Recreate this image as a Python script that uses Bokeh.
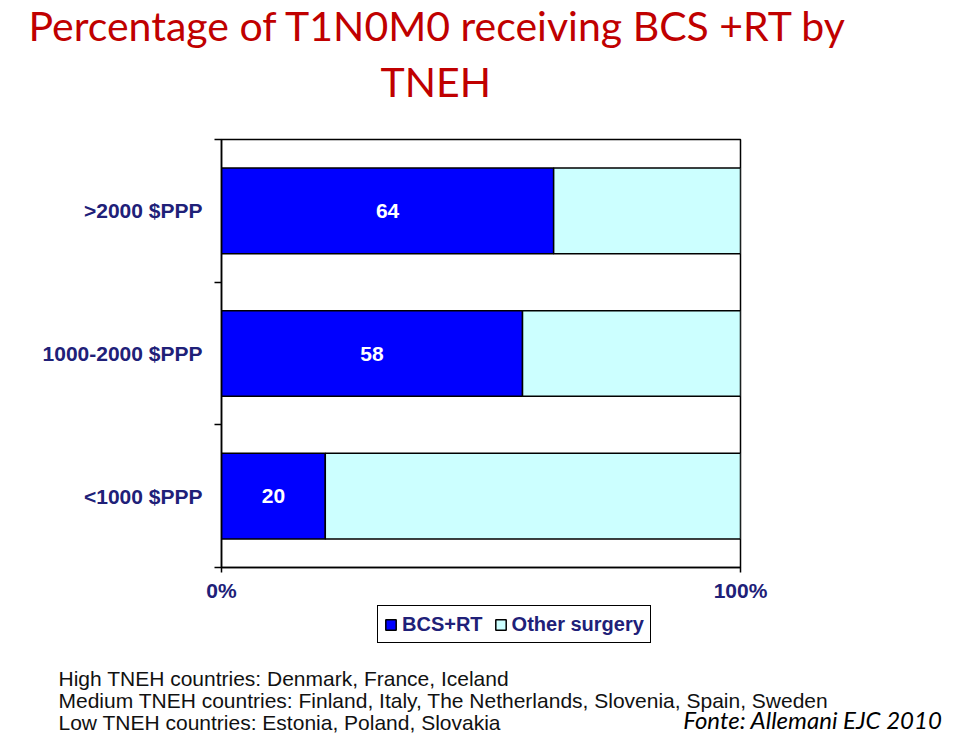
from bokeh.plotting import figure
from bokeh.models import Range1d, FixedTicker, Legend, LegendItem, ColumnDataSource, Title, Label
from bokeh.core.properties import value
from bokeh.embed import file_html
from bokeh.resources import INLINE

# ---- data ----
categories = ["<1000 $PPP", "1000-2000 $PPP", ">2000 $PPP"]   # bottom -> top
bcs_rt = [20, 58, 64]
other = [100 - v for v in bcs_rt]
series_names = ["BCS+RT", "Other surgery"]
series_colors = ["#0000FF", "#CCFFFF"]
x_ticks = [0, 100]
x_tick_labels = ["0%", "100%"]
title_lines = ["Percentage of T1N0M0 receiving BCS +RT by", "TNEH"]
notes = [
    "High TNEH countries: Denmark, France, Iceland",
    "Medium TNEH countries: Finland, Italy, The Netherlands, Slovenia, Spain, Sweden",
    "Low TNEH countries: Estonia, Poland, Slovakia",
]
source_note = "Fonte: Allemani EJC 2010"

NAVY = "#202078"
W = 944
HA, HB = 604, 131
FL, FR, FT, FB = 221, 740, 139, 569  # frame in picture px

ys = [i + 0.5 for i in range(len(categories))]
src = ColumnDataSource(dict(y=ys, bcs=bcs_rt, other=other,
                            tot=[b + o for b, o in zip(bcs_rt, other)],
                            mid=[b / 2 for b in bcs_rt],
                            lab=[str(b) for b in bcs_rt]))

# ================= main chart =================
p = figure(width=W, height=HA, output_backend="svg", toolbar_location=None,
           x_range=Range1d(0, 100), y_range=Range1d(0, len(categories)),
           min_border_left=FL, min_border_right=W - FR,
           min_border_top=FT, min_border_bottom=HA - FB)
p.grid.visible = False
p.outline_line_color = "black"
p.outline_line_width = 1.5
p.background_fill_color = "white"
p.border_fill_color = "white"

p.hbar(y="y", left=0, right="bcs", height=0.6, source=src,
       fill_color=series_colors[0], line_color="black", line_width=1.5)
p.hbar(y="y", left="bcs", right="tot", height=0.6, source=src,
       fill_color=series_colors[1], line_color="black", line_width=1.5)
p.text(x="mid", y="y", text="lab", source=src, text_color="white",
       text_font=value("Liberation Sans"), text_font_style="bold",
       text_font_size="21px", text_align="center", text_baseline="middle")

xa = p.xaxis[0]
xa.ticker = FixedTicker(ticks=x_ticks)
xa.major_label_overrides = {t: l for t, l in zip(x_ticks, x_tick_labels)}
xa.major_tick_out = 5
xa.major_tick_in = 0
xa.minor_tick_out = 0
xa.axis_line_width = 1.5
xa.major_tick_line_width = 1.5
xa.major_label_standoff = 6
xa.major_label_text_font = "Liberation Sans"
xa.major_label_text_font_style = "bold"
xa.major_label_text_font_size = "21px"
xa.major_label_text_color = NAVY

ya = p.yaxis[0]
ya.ticker = FixedTicker(ticks=ys, minor_ticks=[float(i) for i in range(len(categories) + 1)])
ya.major_label_overrides = {y: c for y, c in zip(ys, categories)}
ya.major_tick_out = 0
ya.major_tick_in = 0
ya.minor_tick_out = 7
ya.minor_tick_in = 0
ya.minor_tick_line_width = 1.5
ya.axis_line_width = 1.5
ya.major_label_standoff = 12
ya.major_label_text_font = "Liberation Sans"
ya.major_label_text_font_style = "bold"
ya.major_label_text_font_size = "21px"
ya.major_label_text_color = NAVY

# titles (above): first added is closest to the frame
p.add_layout(Title(text=title_lines[1], align="left", offset=159, standoff=67,
                   text_font="Lato", text_font_size="41px", text_color="#C00000",
                   text_font_style="normal"), "above")
p.add_layout(Title(text=title_lines[0], align="left", offset=-193, standoff=-57,
                   text_font="Lato", text_font_size="41px", text_color="#C00000",
                   text_font_style="normal"), "above")

# ================= legend + notes =================
b = figure(width=W, height=HB, output_backend="svg", toolbar_location=None,
           x_range=Range1d(0, W), y_range=Range1d(HB, 0),
           min_border=0, x_axis_type=None, y_axis_type=None)
b.grid.visible = False
b.outline_line_color = None
b.background_fill_color = "white"
b.border_fill_color = "white"

# legend swatches: hidden copies of the two bar series (only their style is shown)
lr = [b.hbar(y="y", left=0, right="bcs", height=0.6, source=src, visible=False,
             fill_color=series_colors[0], line_color="black", line_width=1.5),
      b.hbar(y="y", left="bcs", right="tot", height=0.6, source=src, visible=False,
             fill_color=series_colors[1], line_color="black", line_width=1.5)]
legend = Legend(items=[LegendItem(label=n, renderers=[r]) for n, r in zip(series_names, lr)],
                orientation="horizontal", location=(377, HB - (643 - HA)),
                click_policy="none",
                label_text_font="Liberation Sans", label_text_font_style="bold",
                label_text_font_size="20px", label_text_color=NAVY,
                glyph_width=13, glyph_height=13, label_standoff=5, spacing=11,
                padding=6, margin=0, label_height=24,
                border_line_color="black", border_line_width=1.5, border_line_alpha=1.0,
                background_fill_color="white", inactive_fill_alpha=0.0)
b.add_layout(legend, "center")

SHIFT = 8  # labels render about this much lower than the given y
for txt, base in zip(notes, [686, 708, 730]):
    b.add_layout(Label(x=58, y=base - HA - SHIFT, text=txt, text_align="left",
                       text_baseline="alphabetic", text_font="Liberation Sans",
                       text_font_size="21px", text_color="#111111"))
b.add_layout(Label(x=942, y=727 - HA - SHIFT, text=source_note, text_align="right",
                   text_baseline="alphabetic", text_font="Lato", text_font_style="italic",
                   text_font_size="24px", text_color="black"))

open("out.html", "w").write(file_html([p, b], INLINE))
